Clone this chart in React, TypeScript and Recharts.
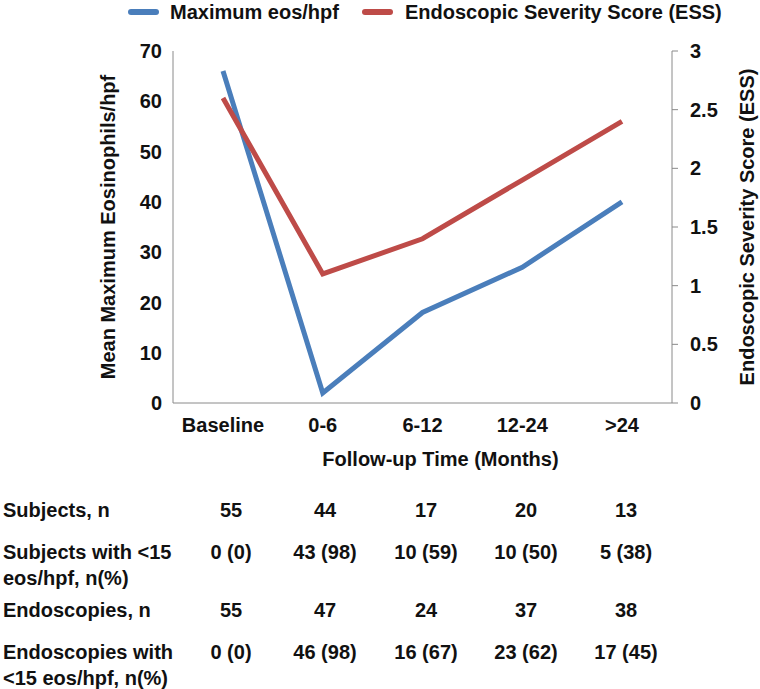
import { LineChart, Line, XAxis, YAxis, Legend } from "recharts";

const CATEGORIES = ["Baseline", "0-6", "6-12", "12-24", ">24"];
const MAX_EOS = [66, 2, 18, 27, 40];
const ESS = [2.6, 1.1, 1.4, 1.9, 2.4];

const LEFT_TICKS = [0, 10, 20, 30, 40, 50, 60, 70];
const RIGHT_TICKS = [0, 0.5, 1, 1.5, 2, 2.5, 3];

const SUBJECTS = ["55", "44", "17", "20", "13"];
const SUBJECTS_LT15 = ["0 (0)", "43 (98)", "10 (59)", "10 (50)", "5 (38)"];
const ENDOSCOPIES = ["55", "47", "24", "37", "38"];
const ENDOSCOPIES_LT15 = ["0 (0)", "46 (98)", "16 (67)", "23 (62)", "17 (45)"];

const BLUE = "#4a7ebb";
const RED = "#be4b48";
const AXIS = "#8a8a8a";
const FONT = '"Liberation Sans", Arial, sans-serif';

const data = CATEGORIES.map((c, i) => ({ name: c, eos: MAX_EOS[i], ess: ESS[i] }));

const tableRows = [
  { label: ["Subjects, n"], values: SUBJECTS, top: 510 },
  { label: ["Subjects with <15", "eos/hpf, n(%)"], values: SUBJECTS_LT15, top: 552 },
  { label: ["Endoscopies, n"], values: ENDOSCOPIES, top: 610 },
  { label: ["Endoscopies with", "<15 eos/hpf, n(%)"], values: ENDOSCOPIES_LT15, top: 652 },
];
const colCenters = [231, 325, 426, 526, 626];

const tick = { fontSize: 20, fontWeight: "bold", fill: "#111" };

function renderLegend() {
  const item = (color: string, text: string, lineX: number, textX: number) => (
    <>
      <div style={{ position: "absolute", left: lineX, top: 9, width: 31, height: 6, borderRadius: 3, background: color }} />
      <div style={{ position: "absolute", left: textX, top: 0, lineHeight: "24px", fontSize: 20, fontWeight: "bold", color: "#111", whiteSpace: "nowrap" }}>
        {text}
      </div>
    </>
  );
  return (
    <div style={{ position: "relative", width: 760, height: 51 }}>
      {item(BLUE, "Maximum eos/hpf", 128, 170)}
      {item(RED, "Endoscopic Severity Score (ESS)", 362, 405)}
    </div>
  );
}

export default function App() {
  return (
    <div style={{ position: "absolute", left: 0, top: 0, width: 760, height: 689, background: "#fff", fontFamily: FONT }}>
      <LineChart width={760} height={490} data={data} margin={{ top: 0, right: 0, bottom: 0, left: 0 }}>
        <Legend verticalAlign="top" align="left" content={renderLegend} wrapperStyle={{ left: 0, top: 0, width: 760 }} />
        <XAxis
          dataKey="name"
          height={87}
          padding={{ left: 50, right: 50 }}
          stroke={AXIS}
          tickLine={false}
          tickMargin={9}
          tick={tick}
          label={{ value: "Follow-up Time (Months)", position: "insideTop", offset: 49, dx: 18, style: { fontSize: 20, fontWeight: "bold", fill: "#111" } }}
        />
        <YAxis
          yAxisId="left"
          width={173}
          domain={[0, 70]}
          ticks={LEFT_TICKS}
          stroke={AXIS}
          tickLine={false}
          tickMargin={5}
          tick={tick}
          label={{ value: "Mean Maximum Eosinophils/hpf", angle: -90, position: "center", dx: 21, style: { fontSize: 20, fontWeight: "bold", fill: "#111", textAnchor: "middle" } }}
        />
        <YAxis
          yAxisId="right"
          orientation="right"
          width={88}
          domain={[0, 3]}
          ticks={RIGHT_TICKS}
          stroke={AXIS}
          tickSize={6}
          tickMargin={12}
          tick={{ ...tick, textAnchor: "start" }}
          label={{ value: "Endoscopic Severity Score (ESS)", angle: -90, position: "center", dx: 31, style: { fontSize: 20, fontWeight: "bold", fill: "#111", textAnchor: "middle" } }}
        />
        <Line yAxisId="left" dataKey="eos" name="Maximum eos/hpf" stroke={BLUE} strokeWidth={5} dot={false} isAnimationActive={false} />
        <Line yAxisId="right" dataKey="ess" name="Endoscopic Severity Score (ESS)" stroke={RED} strokeWidth={5} dot={false} isAnimationActive={false} />
      </LineChart>
      {tableRows.map((row) => (
        <div key={row.label[0]}>
          <div style={{ position: "absolute", left: 3, top: row.top - 13, lineHeight: "26px", fontSize: 20, fontWeight: "bold", color: "#111", whiteSpace: "nowrap" }}>
            {row.label.map((l) => (
              <div key={l}>{l}</div>
            ))}
          </div>
          {row.values.map((v, i) => (
            <div key={i} style={{ position: "absolute", left: colCenters[i] - 60, width: 120, textAlign: "center", top: row.top - 13, lineHeight: "26px", fontSize: 20, fontWeight: "bold", color: "#111" }}>
              {v}
            </div>
          ))}
        </div>
      ))}
    </div>
  );
}
